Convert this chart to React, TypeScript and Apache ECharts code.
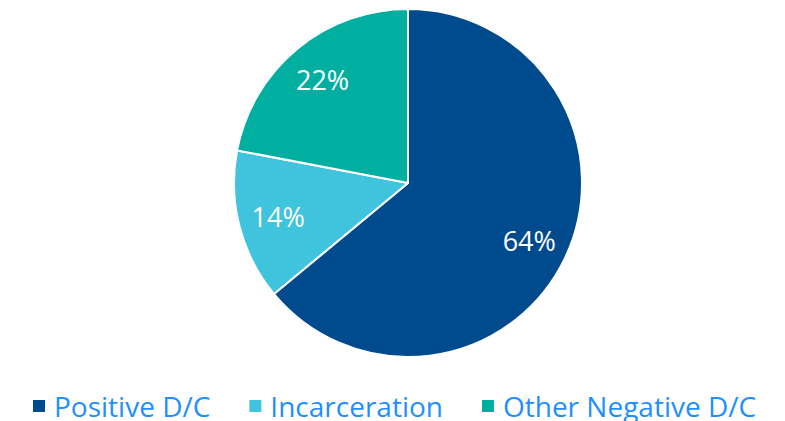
import React, { useEffect, useRef } from "react";
import * as echarts from "echarts";

const categories = ["Positive D/C", "Incarceration", "Other Negative D/C"];
const values = [64, 14, 22];
const colors = ["#004B8D", "#40C4DD", "#00AF9F"];

export default function App() {
  const ref = useRef<HTMLDivElement>(null);
  useEffect(() => {
    const chart = echarts.init(ref.current!, null, { renderer: "svg" });
    const data = categories.map((name, i) => ({
      name,
      value: values[i],
      itemStyle: { color: colors[i] },
    }));
    chart.setOption({
      animation: false,
      backgroundColor: "#ffffff",
      legend: {
        data: categories,
        left: 31,
        top: 392,
        padding: 0,
        icon: "rect",
        itemWidth: 14,
        itemHeight: 14,
        itemGap: 37,
        textStyle: {
          color: "#1F8FFF",
          fontSize: 28,
          lineHeight: 28,
          fontFamily: "Open Sans",
          padding: [0, 0, 0, 3],
        },
      },
      series: [
        {
          type: "pie",
          center: [408, 183],
          radius: [0, 174],
          startAngle: 90,
          clockwise: true,
          silent: true,
          itemStyle: { borderColor: "#ffffff", borderWidth: 2 },
          label: { show: false },
          labelLine: { show: false },
          data,
        },
        {
          type: "pie",
          center: [408, 183],
          radius: [0, 262],
          startAngle: 90,
          clockwise: true,
          silent: true,
          legendHoverLink: false,
          itemStyle: { color: "transparent" },
          label: {
            show: true,
            position: "inside",
            formatter: "{c}%",
            color: "#ffffff",
            fontSize: 27,
            fontFamily: "Open Sans",
          },
          labelLine: { show: false },
          data: categories.map((name, i) => ({
            name,
            value: values[i],
            itemStyle: { color: "transparent" },
          })),
        },
      ],
    });
    return () => chart.dispose();
  }, []);
  return <div ref={ref} style={{ width: 785, height: 421, position: "absolute", left: 0, top: 0 }} />;
}
